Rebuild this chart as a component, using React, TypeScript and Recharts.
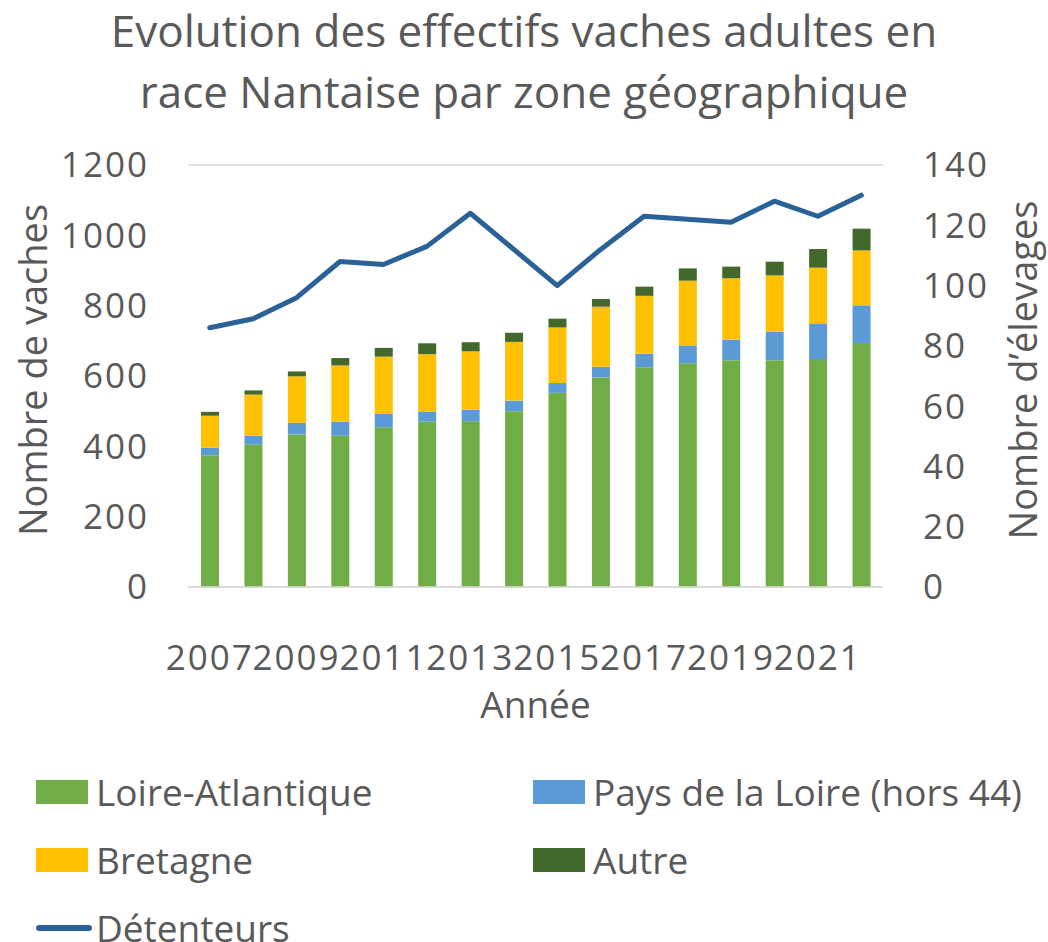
import React from 'react';
import {
  ComposedChart,
  Bar,
  Line,
  XAxis,
  YAxis,
  CartesianGrid,
  Legend,
} from 'recharts';

const years = ['2007', '2008', '2009', '2010', '2011', '2012', '2013', '2014', '2015', '2016', '2017', '2018', '2019', '2020', '2021', '2022'];
const loireAtlantique = [375, 405, 434, 430, 454, 470, 471, 500, 552, 596, 625, 636, 645, 645, 648, 694];
const paysDeLaLoire = [21, 25, 33, 40, 38, 29, 33, 30, 28, 30, 38, 51, 58, 81, 100, 107];
const bretagne = [91, 117, 132, 160, 163, 163, 166, 167, 158, 171, 165, 184, 175, 160, 160, 156];
const autre = [11, 12, 14, 21, 25, 31, 26, 26, 25, 22, 26, 35, 33, 39, 53, 62];
const detenteurs = [86, 89, 96, 108, 107, 113, 124, 112, 100, 112, 123, 122, 121, 128, 123, 130];

const leftTicks = [0, 200, 400, 600, 800, 1000, 1200];
const rightTicks = [0, 20, 40, 60, 80, 100, 120, 140];

const data = years.map((y, i) => ({
  year: y,
  la: loireAtlantique[i],
  pdl: paysDeLaLoire[i],
  bre: bretagne[i],
  aut: autre[i],
  det: detenteurs[i],
}));

const FONT = "'Open Sans', sans-serif";
const TEXT = '#595959';

const legendOrder = ['Loire-Atlantique', 'Pays de la Loire (hors 44)', 'Bretagne', 'Autre', 'Détenteurs'];

const LegendContent = (props: any) => {
  const payload = (props.payload || []).slice().sort(
    (a: any, b: any) => legendOrder.indexOf(a.value) - legendOrder.indexOf(b.value)
  );
  return (
    <div
      style={{
        display: 'grid',
        gridTemplateColumns: '497px 497px',
        gridAutoRows: '68px',
        paddingTop: 41,
        paddingLeft: 36,
        fontFamily: FONT,
        fontSize: 37,
        color: TEXT,
      }}
    >
      {payload.map((p: any) => (
        <div key={p.value} style={{ display: 'flex', alignItems: 'center', height: 68 }}>
          {p.type === 'line' ? (
            <svg width={56} height={10} style={{ marginRight: 4 }}>
              <line x1={3} y1={5} x2={53} y2={5} stroke={p.color} strokeWidth={6} strokeLinecap="round" />
            </svg>
          ) : (
            <svg width={56} height={24} style={{ marginRight: 4 }}>
              <rect x={0} y={0} width={52} height={24} fill={p.color} />
            </svg>
          )}
          <span style={{ whiteSpace: 'nowrap', lineHeight: '68px' }}>{p.value}</span>
        </div>
      ))}
    </div>
  );
};

const leftLabel = (props: any) => {
  const vb = props.viewBox || {};
  const cx = vb.x + 32;
  const cy = vb.y + vb.height / 2 - 6;
  return (
    <text
      x={cx}
      y={cy}
      transform={`rotate(-90 ${cx} ${cy})`}
      textAnchor="middle"
      dominantBaseline="central"
      fill={TEXT}
      fontFamily={FONT}
      fontSize={38}
    >
      Nombre de vaches
    </text>
  );
};

const rightLabel = (props: any) => {
  const vb = props.viewBox || {};
  const cx = vb.x + 139;
  const cy = vb.y + vb.height / 2 - 6;
  return (
    <text
      x={cx}
      y={cy}
      transform={`rotate(-90 ${cx} ${cy})`}
      textAnchor="middle"
      dominantBaseline="central"
      fill={TEXT}
      fontFamily={FONT}
      fontSize={38}
    >
      Nombre d’élevages
    </text>
  );
};

const bottomLabel = (props: any) => {
  const vb = props.viewBox || {};
  const cx = vb.x + vb.width / 2;
  const cy = vb.y + 116;
  return (
    <text
      x={cx}
      y={cy}
      textAnchor="middle"
      dominantBaseline="central"
      fill={TEXT}
      fontFamily={FONT}
      fontSize={37}
    >
      Année
    </text>
  );
};

const tickStyle = { fill: TEXT, fontFamily: FONT, fontSize: 35, letterSpacing: 2 };

export default function App() {
  return (
    <div style={{ position: 'absolute', left: 0, top: 0, width: 1048, height: 942, background: '#fff' }}>
      <div
        style={{
          position: 'absolute',
          left: 0,
          top: 0,
          width: 1048,
          textAlign: 'center',
          fontFamily: FONT,
          fontSize: 44,
          lineHeight: '61px',
          color: TEXT,
          zIndex: 2,
        }}
      >
        Evolution des effectifs vaches adultes en
        <br />
        race Nantaise par zone géographique
      </div>
      <ComposedChart
        width={1048}
        height={942}
        data={data}
        margin={{ top: 165, right: 0, bottom: 0, left: 0 }}
        barCategoryGap="0%"
        style={{ fontFamily: FONT }}
      >
        <CartesianGrid vertical={false} stroke="#d9d9d9" strokeWidth={1.5} />
        <XAxis
          dataKey="year"
          interval={1}
          tickLine={false}
          axisLine={{ stroke: '#d9d9d9', strokeWidth: 1.5 }}
          tick={tickStyle}
          tickSize={0}
          tickMargin={58}
          height={130}
          label={bottomLabel}
        />
        <YAxis
          yAxisId="left"
          domain={[0, 1200]}
          ticks={leftTicks}
          width={188}
          axisLine={false}
          tickLine={false}
          tickSize={0}
          tickMargin={39}
          tick={tickStyle}
          label={leftLabel}
        />
        <YAxis
          yAxisId="right"
          orientation="right"
          domain={[0, 140]}
          ticks={rightTicks}
          width={165}
          axisLine={false}
          tickLine={false}
          tickSize={0}
          tickMargin={40}
          tick={tickStyle}
          label={rightLabel}
        />
        <Bar yAxisId="left" dataKey="la" name="Loire-Atlantique" stackId="a" fill="#70ad47" barSize={18} isAnimationActive={false} />
        <Bar yAxisId="left" dataKey="pdl" name="Pays de la Loire (hors 44)" stackId="a" fill="#5b9bd5" barSize={18} isAnimationActive={false} />
        <Bar yAxisId="left" dataKey="bre" name="Bretagne" stackId="a" fill="#ffc000" barSize={18} isAnimationActive={false} />
        <Bar yAxisId="left" dataKey="aut" name="Autre" stackId="a" fill="#43682b" barSize={18} isAnimationActive={false} />
        <Line
          yAxisId="right"
          dataKey="det"
          name="Détenteurs"
          type="linear"
          stroke="#2a6297"
          strokeWidth={5}
          strokeLinecap="round"
          strokeLinejoin="round"
          dot={false}
          activeDot={false}
          legendType="line"
          isAnimationActive={false}
        />
        <Legend
          verticalAlign="bottom"
          align="left"
          content={LegendContent}
          wrapperStyle={{ left: 0, width: 1048, height: 225 }}
        />
      </ComposedChart>
    </div>
  );
}
